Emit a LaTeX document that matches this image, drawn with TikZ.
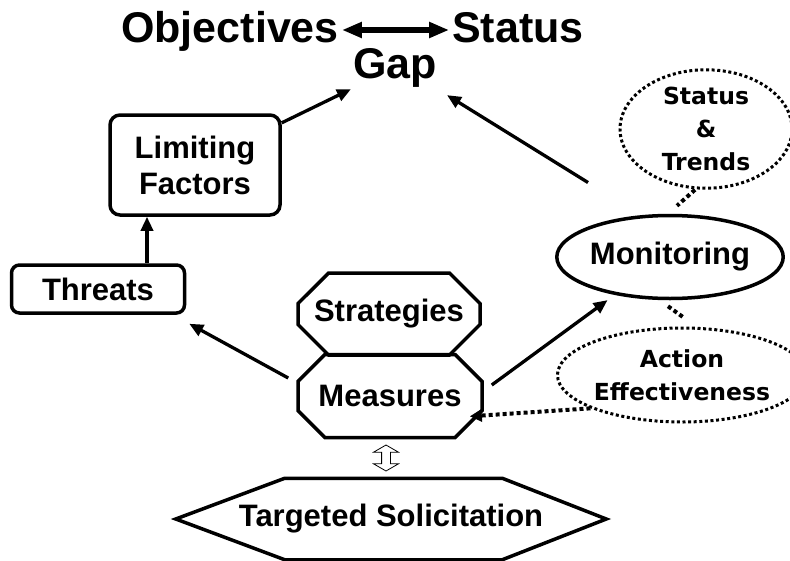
\documentclass[tikz,border=0pt]{standalone}
\usepackage{fontspec}
\setmainfont{Liberation Sans}
\newfontfamily\handfont{DejaVu Sans}
\usetikzlibrary{shapes.geometric,shapes.misc,shapes.arrows,arrows.meta}

\begin{document}
\begin{tikzpicture}[x=1pt,y=-1pt,
	big/.style={inner sep=0pt, font=\fontsize{43}{46}\selectfont\bfseries},
	box/.style={draw, line width=3.5pt, align=center, inner sep=0pt, font=\fontsize{31}{36}\selectfont\bfseries},
	oct/.style={box, chamfered rectangle, chamfered rectangle xsep=24pt, chamfered rectangle ysep=16pt},
	hand/.style={draw, ellipse, line width=3pt, dash pattern=on 3pt off 2.6pt, align=center, inner sep=0pt, font=\fontsize{23.5}{33}\selectfont\handfont\bfseries},
	arr/.style={line width=3.3pt, -{Triangle[length=14pt,width=12pt]}},
	dots/.style={line width=4pt, dash pattern=on 4pt off 3pt}]
	\useasboundingbox (0,0) rectangle (790,560);
	\path (230,42) node(obj)[big, anchor=base]{Objectives}
	(518,42) node(stat)[big, anchor=base]{Status}
	(395,78) node(gap)[big, anchor=base, inner sep=2pt]{Gap};
	\path (195,165) node(lim)[box, rounded corners=10pt, minimum width=170pt, minimum height=100pt]{Limiting\\Factors}
	(98,289) node(thr)[box, rounded corners=8pt, minimum width=173pt, minimum height=48pt]{Threats}
	(389,314) node(strat)[oct, minimum width=182pt, minimum height=82pt]{Strategies}
	(390,396) node(meas)[oct, minimum width=184pt, minimum height=83pt]{Measures}
	(670,257) node(mon)[box, ellipse, minimum width=215pt, minimum height=83pt]{Monitoring}
	(391,519) node(sol)[box, draw=none, minimum width=427pt, minimum height=78pt]{Targeted Solicitation};
	\draw [line width=3.5pt, line join=miter] (sol.west) -- ([xshift=109pt]sol.north west) -- ([xshift=-104pt]sol.north east)
	-- (sol.east) -- ([xshift=-104pt]sol.south east) -- ([xshift=109pt]sol.south west) -- cycle;
	\path (706,129) node(st)[hand, minimum width=172pt, minimum height=108pt]{Status\\\&\\Trends}
	(682,375) node(ae)[hand, minimum width=225pt, minimum height=94pt]{Action\\Effectiveness};
	\path (386,458) node(link)[draw, double arrow, rotate=90, line width=0.8pt, inner sep=4pt, minimum height=26pt, minimum width=24pt, double arrow head extend=8pt, double arrow tip angle=120]{};
	% connectors
	\draw [line width=5.5pt, {Triangle[length=20pt,width=15pt]}-{Triangle[length=20pt,width=15pt]}] ([xshift=3pt,yshift=12pt]obj.base east) -- ([xshift=-3pt,yshift=12pt]stat.base west);
	\draw [arr] ([xshift=49pt]thr.north) -- ([xshift=-48pt]lim.south);
	\draw [arr] (lim) -- (gap.south west);
	\draw [arr, shorten <=62pt] (mon.125) -- ([xshift=8pt,yshift=-6pt]gap.south east);
	\draw [arr] ([xshift=-8pt,yshift=18pt]meas.west) -- ([xshift=3pt,yshift=-9pt]thr.south east);
	\draw [arr] ([xshift=8pt,yshift=11pt]meas.east) -- ([xshift=-8pt,yshift=-5pt]mon.215);
	\draw [dots] ([xshift=-11pt]st.south) -- ([xshift=7pt,yshift=8pt]mon.north);
	\draw [dots] ([xshift=-2pt,yshift=-6pt]mon.south) -- ([xshift=3pt,yshift=8pt]ae.north);
	\draw [dots, -{Triangle[length=12pt,width=12pt]}] (ae.200) -- ([yshift=9pt]meas.south east);
\end{tikzpicture}
\end{document}
